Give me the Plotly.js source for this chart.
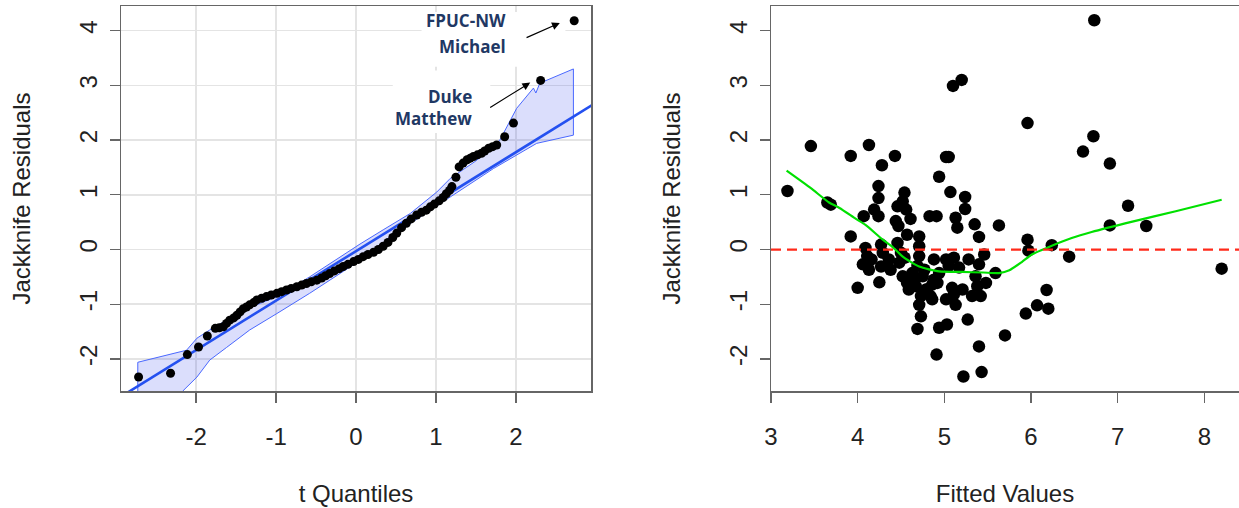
<!DOCTYPE html>
<html>
<head>
<meta charset="utf-8">
<script src="https://cdn.plot.ly/plotly-3.0.1.min.js"></script>
<style>
  html, body { margin: 0; padding: 0; background: #fff; }
  #chart { width: 1239px; height: 508px; }
</style>
</head>
<body>
<div id="chart"></div>
<script>
// ---- Left panel: Q-Q plot of jackknife (studentized) residuals ----
const qqX = [-2.72, -2.32, -2.11, -1.97, -1.86,
  -1.76, -1.71, -1.66, -1.62, -1.58, -1.53, -1.49, -1.45, -1.41, -1.37, -1.33, -1.28, -1.24,
  -1.18, -1.12, -1.06, -0.99, -0.93, -0.87, -0.81, -0.74, -0.68, -0.62, -0.56, -0.49, -0.43,
  -0.38, -0.33, -0.27, -0.21, -0.16, -0.10, -0.03, 0.03, 0.09, 0.15, 0.22, 0.28, 0.34, 0.40,
  0.46, 0.51, 0.57, 0.63, 0.69, 0.76, 0.82, 0.88, 0.93, 0.98, 1.04, 1.09, 1.13, 1.17, 1.20,
  1.25, 1.29, 1.34, 1.39, 1.43, 1.47, 1.52, 1.57, 1.61, 1.66, 1.71, 1.76, 1.86, 1.97, 2.31, 2.73];
const qqY = [-2.33, -2.26, -1.92, -1.78, -1.58,
  -1.44, -1.43, -1.41, -1.35, -1.29, -1.25, -1.20, -1.14, -1.08, -1.05, -1.01, -0.97, -0.92,
  -0.89, -0.86, -0.83, -0.80, -0.77, -0.74, -0.71, -0.68, -0.65, -0.62, -0.59, -0.56, -0.52,
  -0.48, -0.44, -0.39, -0.35, -0.31, -0.27, -0.22, -0.18, -0.13, -0.09, -0.05, 0.00, 0.06, 0.13,
  0.22, 0.30, 0.40, 0.48, 0.56, 0.63, 0.68, 0.72, 0.78, 0.83, 0.89, 0.95, 1.02, 1.08, 1.15,
  1.32, 1.51, 1.58, 1.64, 1.67, 1.70, 1.73, 1.76, 1.80, 1.85, 1.88, 1.91, 2.06, 2.31, 3.09, 4.18];

// reference line through the quartiles
const qqLineIntercept = -0.03;
const qqLineSlope = 0.904;
const qqLineXEnds = [-3.1, 3.1];

// simulated confidence envelope (upper edge left->right, lower edge right->left)
const envUpperX = [-2.73, -2.12, -1.99, -1.83, -1.41, -0.99, -0.58, -0.16, 0.05, 0.34, 0.68, 1.01, 1.18, 1.50, 1.80, 2.01, 2.22, 2.25, 2.30, 2.72];
const envUpperY = [-2.06, -1.84, -1.62, -1.47, -1.11, -0.86, -0.50, -0.10, 0.10, 0.36, 0.66, 1.05, 1.30, 1.62, 2.00, 2.58, 2.95, 2.86, 3.04, 3.30];
const envLowerX = [2.72, 2.26, 1.72, 1.20, 0.60, 0.05, -0.58, -0.99, -1.33, -1.62, -1.83, -1.99, -2.17, -2.30, -2.73, -2.73];
const envLowerY = [2.09, 1.94, 1.48, 0.98, 0.40, -0.20, -0.80, -1.17, -1.47, -1.79, -2.02, -2.33, -2.59, -2.85, -2.85, -2.06];

// ---- Right panel: residuals vs fitted values ----
const fitted = [3.19, 3.46, 3.65, 3.69, 3.92, 3.92, 4.00, 4.13, 4.07, 4.09, 4.11, 4.06, 4.13, 4.19, 4.24,
  4.24, 4.24, 4.28, 4.27, 4.29, 4.36, 4.27, 4.25, 4.38, 4.43, 4.54, 4.52, 4.46, 4.56, 4.61, 4.44, 4.47,
  4.46, 4.50, 4.48, 4.52, 4.57, 4.59, 4.54, 4.57, 4.71, 4.71, 4.71, 4.69, 4.75, 4.79, 4.73, 4.63, 4.65,
  4.67, 4.71, 4.73, 4.69, 4.77, 4.83, 4.91, 4.94, 5.02, 5.05, 5.07, 5.10, 5.20, 5.24, 5.24, 5.13, 5.15,
  5.35, 5.40, 5.63, 4.88, 5.02, 5.11, 5.05, 4.94, 4.88, 4.92, 4.86, 4.80, 4.84, 4.86, 5.02, 5.09, 5.11,
  5.13, 5.21, 5.17, 5.28, 5.46, 5.40, 5.36, 5.48, 5.38, 5.59, 5.32, 5.42, 5.27, 4.94, 5.03, 4.91, 5.40,
  5.22, 5.43, 5.70, 5.96, 5.96, 5.97, 6.24, 6.44, 6.18, 6.07, 6.20, 5.94, 6.60, 6.72, 6.73, 6.91, 6.91,
  7.12, 7.33, 8.20, 4.16];
const resid = [1.07, 1.89, 0.86, 0.82, 1.71, 0.24, -0.70, 1.91, 0.61, 0.03, -0.12, -0.27, -0.37, 0.73, 0.61,
  1.16, 0.94, 1.54, 0.09, -0.06, -0.18, -0.31, -0.60, -0.37, 1.71, 1.04, 0.88, 0.79, 0.73, 0.56, 0.52, 0.43,
  0.12, -0.06, -0.24, -0.49, -0.61, -0.73, -0.15, 0.27, 0.24, 0.06, -0.12, -0.30, -0.49, -0.73, -0.85, -0.43, -0.58,
  -0.67, -1.01, -1.22, -1.45, -0.37, 0.61, 0.61, 1.33, 1.69, 1.69, 1.05, 2.99, 3.10, 0.96, 0.74, 0.58, 0.40,
  0.46, 0.23, 0.44, -0.18, -0.18, -0.15, -0.30, -0.43, -0.55, -0.61, -0.64, -0.73, -0.85, -0.91, -0.91, -0.70, -0.82,
  -1.01, -0.73, -0.33, -0.18, -0.09, -0.27, -0.49, -0.61, -0.67, -0.43, -0.85, -0.85, -1.28, -1.43, -1.37, -1.92, -1.77,
  -2.32, -2.24, -1.57, 2.31, 0.18, -0.02, 0.08, -0.13, -0.74, -1.02, -1.08, -1.17, 1.79, 2.07, 4.19, 1.57, 0.44,
  0.80, 0.43, -0.35, -0.18];

// lowess smooth of residuals on fitted values
const smoothX = [3.18, 3.46, 3.67, 3.79, 3.98, 4.09, 4.29, 4.40, 4.52, 4.71, 4.94, 5.20, 5.45, 5.63, 5.75, 5.90, 6.01, 6.24, 6.47, 6.70, 7.17, 7.67, 8.20];
const smoothY = [1.44, 1.12, 0.86, 0.76, 0.56, 0.45, 0.18, 0.05, -0.13, -0.31, -0.40, -0.41, -0.42, -0.43, -0.38, -0.22, -0.09, 0.07, 0.21, 0.32, 0.51, 0.70, 0.91];

// tick positions and their printed labels (plain hyphen minus)
const qqTicks = [-2, -1, 0, 1, 2];
const qqTickText = ['-2', '-1', '0', '1', '2'];
const fitTicks = [3, 4, 5, 6, 7, 8];
const fitTickText = ['3', '4', '5', '6', '7', '8'];
const residTicks = [-2, -1, 0, 1, 2, 3, 4];
const residTickText = ['-2', '-1', '0', '1', '2', '3', '4'];

// ---- traces ----
const envX = envUpperX.concat(envLowerX);
const envY = envUpperY.concat(envLowerY);
const qqLineY = qqLineXEnds.map(v => qqLineIntercept + qqLineSlope * v);

const traces = [
  { type: 'scatter', mode: 'lines', x: envX, y: envY, fill: 'toself',
    fillcolor: 'rgba(40,60,240,0.17)', line: { color: '#4a68ff', width: 1 },
    xaxis: 'x', yaxis: 'y', hoverinfo: 'skip' },
  { type: 'scatter', mode: 'lines', x: qqLineXEnds, y: qqLineY,
    line: { color: '#2450f0', width: 2.6 }, xaxis: 'x', yaxis: 'y', hoverinfo: 'skip' },
  { type: 'scatter', mode: 'markers', x: qqX, y: qqY,
    marker: { color: '#000', size: 9 }, xaxis: 'x', yaxis: 'y', cliponaxis: false },
  { type: 'scatter', mode: 'markers', x: fitted, y: resid,
    marker: { color: '#000', size: 12.5 }, xaxis: 'x2', yaxis: 'y2' },
  { type: 'scatter', mode: 'lines', x: smoothX, y: smoothY, line: { color: '#00e000', width: 2.2, shape: 'spline', smoothing: 0.6 },
    xaxis: 'x2', yaxis: 'y2', hoverinfo: 'skip' }
];

const W = 1239, H = 508;
const fontFam = 'Liberation Sans, Arial, Helvetica, sans-serif';
const tickFont = { family: fontFam, size: 24, color: '#222' };
const titleFont = { family: fontFam, size: 24, color: '#222' };
const yDom = [1 - 391 / H, 1 - 6 / H];

function axisBase() {
  return {
    tickmode: 'array',
    ticks: 'outside', ticklen: 10, tickwidth: 1.3, tickcolor: '#666',
    showline: true, mirror: true, linecolor: '#666', linewidth: 1.5,
    zeroline: false, tickfont: tickFont, automargin: false, fixedrange: true
  };
}

const layout = {
  width: W, height: H,
  margin: { l: 0, r: 0, t: 0, b: 0 },
  paper_bgcolor: '#fff', plot_bgcolor: '#fff',
  showlegend: false,
  xaxis: Object.assign(axisBase(), {
    domain: [121 / W, 591 / W], range: [-2.94, 2.94], anchor: 'y',
    tickvals: qqTicks, ticktext: qqTickText, ticklabelstandoff: 14,
    showgrid: true, gridcolor: '#e4e4e4', gridwidth: 1.6,
    title: { text: 't Quantiles', font: titleFont, standoff: 36 }
  }),
  yaxis: Object.assign(axisBase(), {
    domain: yDom, range: [-2.585, 4.45], anchor: 'x',
    tickvals: residTicks, ticktext: residTickText, tickangle: -90, ticklabelstandoff: 3,
    showgrid: true, gridcolor: '#e4e4e4', gridwidth: 1.6,
    title: { text: 'Jackknife Residuals', font: titleFont, standoff: 37 }
  }),
  xaxis2: Object.assign(axisBase(), {
    domain: [771 / W, 1], range: [3.0, 8.4], anchor: 'y2',
    tickvals: fitTicks, ticktext: fitTickText, ticklabelstandoff: 14, showgrid: false,
    title: { text: 'Fitted Values', font: titleFont, standoff: 36 }
  }),
  yaxis2: Object.assign(axisBase(), {
    domain: yDom, range: [-2.585, 4.45], anchor: 'x2',
    tickvals: residTicks, ticktext: residTickText, tickangle: -90, ticklabelstandoff: 3, showgrid: false,
    title: { text: 'Jackknife Residuals', font: titleFont, standoff: 37 }
  }),
  shapes: [
    // white label backgrounds over the grid
    { type: 'rect', xref: 'x', yref: 'y', x0: 0.82, x1: 2.62, y0: 3.34, y1: 4.34,
      fillcolor: '#fff', line: { width: 0 }, layer: 'between' },
    { type: 'rect', xref: 'x', yref: 'y', x0: 0.46, x1: 1.68, y0: 2.13, y1: 3.27,
      fillcolor: '#fff', line: { width: 0 }, layer: 'between' },
    // zero reference on the residual plot
    { type: 'line', xref: 'x2 domain', yref: 'y2', x0: 0, x1: 1, y0: 0, y1: 0,
      line: { color: '#ff2a1a', width: 2.2, dash: '10px,6px' }, layer: 'above' }
  ],
  annotations: [
    { xref: 'x', yref: 'y', x: 1.907, y: 4.18, text: 'FPUC-NW', showarrow: false, xanchor: 'right', yanchor: 'middle',
      font: { family: 'Open Sans', size: 17, color: '#1f3864', weight: 700 } },
    { xref: 'x', yref: 'y', x: 1.907, y: 3.71, text: 'Michael', showarrow: false, xanchor: 'right', yanchor: 'middle',
      font: { family: 'Open Sans', size: 17, color: '#1f3864', weight: 700 } },
    { xref: 'x', yref: 'y', x: 1.477, y: 2.79, text: 'Duke', showarrow: false, xanchor: 'right', yanchor: 'middle',
      font: { family: 'Open Sans', size: 17, color: '#1f3864', weight: 700 } },
    { xref: 'x', yref: 'y', x: 1.477, y: 2.40, text: 'Matthew', showarrow: false, xanchor: 'right', yanchor: 'middle',
      font: { family: 'Open Sans', size: 17, color: '#1f3864', weight: 700 } },
    { xref: 'x', yref: 'y', axref: 'x', ayref: 'y', x: 2.55, y: 4.14, ax: 2.115, ay: 3.86, text: '',
      showarrow: true, arrowhead: 2, arrowsize: 1.3, arrowwidth: 1.2, arrowcolor: '#000' },
    { xref: 'x', yref: 'y', axref: 'x', ayref: 'y', x: 2.18, y: 3.05, ax: 1.66, ay: 2.58, text: '',
      showarrow: true, arrowhead: 2, arrowsize: 1.3, arrowwidth: 1.2, arrowcolor: '#000' }
  ]
};

Plotly.newPlot('chart', traces, layout, { displayModeBar: false, staticPlot: true });
</script>
</body>
</html>
